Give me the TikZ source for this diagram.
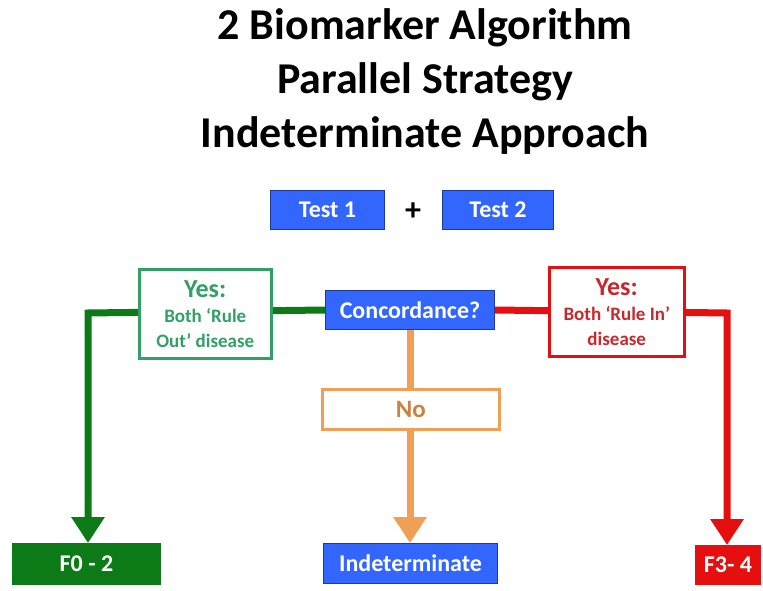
\documentclass[tikz,border=0pt]{standalone}
\usepackage{fontspec}
\setmainfont{Carlito}
\usetikzlibrary{arrows.meta}
\definecolor{boxblue}{RGB}{51,102,255}
\definecolor{boxblueline}{RGB}{30,60,150}
\definecolor{darkgreen}{RGB}{12,122,22}
\definecolor{lightgreen}{RGB}{50,160,100}
\definecolor{flowred}{RGB}{230,15,15}
\definecolor{textred}{RGB}{200,40,45}
\definecolor{floworange}{RGB}{240,160,85}
\definecolor{textorange}{RGB}{205,130,60}
\tikzset{
  bluebox/.style={draw=boxblueline, line width=1pt, fill=boxblue, text=white,
    font=\bfseries\fontsize{24}{26}\selectfont, inner sep=0pt, anchor=north west},
  yesbox/.style={line width=2.5pt, fill=white, align=center, inner sep=0pt, anchor=north west,
    font=\bfseries\fontsize{19}{25}\selectfont},
  flow/.style={line width=7pt},
  tip/.style={-{Triangle[width=32pt,length=26pt]}},
}
\begin{document}
\begin{tikzpicture}[x=1pt,y=-1pt]
\useasboundingbox (0,0) rectangle (763,591);

% title
\node[font=\bfseries\fontsize{44}{54}\selectfont, align=center] (title) at (425,82)
  {2 Biomarker Algorithm\\Parallel Strategy\\Indeterminate Approach};

% inputs
\node[bluebox, minimum width=114pt, minimum height=39pt] (t1) at (270,190) {Test 1};
\node[font=\bfseries\fontsize{32}{32}\selectfont] (plus) at (413,212) {+};
\node[bluebox, minimum width=111pt, minimum height=39pt] (t2) at (442,190) {Test 2};

% decision
\node[bluebox, minimum width=169pt, minimum height=39pt] (conc) at (325,290) {Concordance?};

% outcomes
\node[bluebox, minimum width=174pt, minimum height=40pt] (ind) at (323,543) {Indeterminate};
\node[bluebox, draw=darkgreen, fill=darkgreen, minimum width=148pt, minimum height=41pt] (f02) at (12,543) {F0 - 2};
\node[bluebox, draw=flowred, fill=flowred, minimum width=65pt, minimum height=39pt] (f34) at (695,545) {F3- 4};

% connectors
\coordinate (gcorner) at (88,313);
\coordinate (rcorner) at (727,313);
\draw[flow, darkgreen, tip] (conc.west) -- (gcorner) -- (gcorner |- f02.north);
\draw[flow, flowred, tip] (conc.east) -- (rcorner) -- (rcorner |- f34.north);
\draw[flow, floworange, tip] (conc.south -| 410,0) -- (410,543);

% labels on the connectors
\node[yesbox, draw=lightgreen, text=lightgreen, minimum width=132pt, minimum height=89pt] (yesg) at (138,268)
  {{\fontsize{26}{25}\selectfont Yes:}\\Both ‘Rule\\Out’ disease};
\node[yesbox, draw=flowred, text=textred, minimum width=135pt, minimum height=89pt] (yesr) at (548,266)
  {{\fontsize{26}{25}\selectfont Yes:}\\Both ‘Rule In’\\disease};
\node[yesbox, draw=floworange, text=textorange, font=\bfseries\fontsize{25}{26}\selectfont, minimum width=177pt, minimum height=40pt] (no) at (321,388) {No};
\end{tikzpicture}
\end{document}
